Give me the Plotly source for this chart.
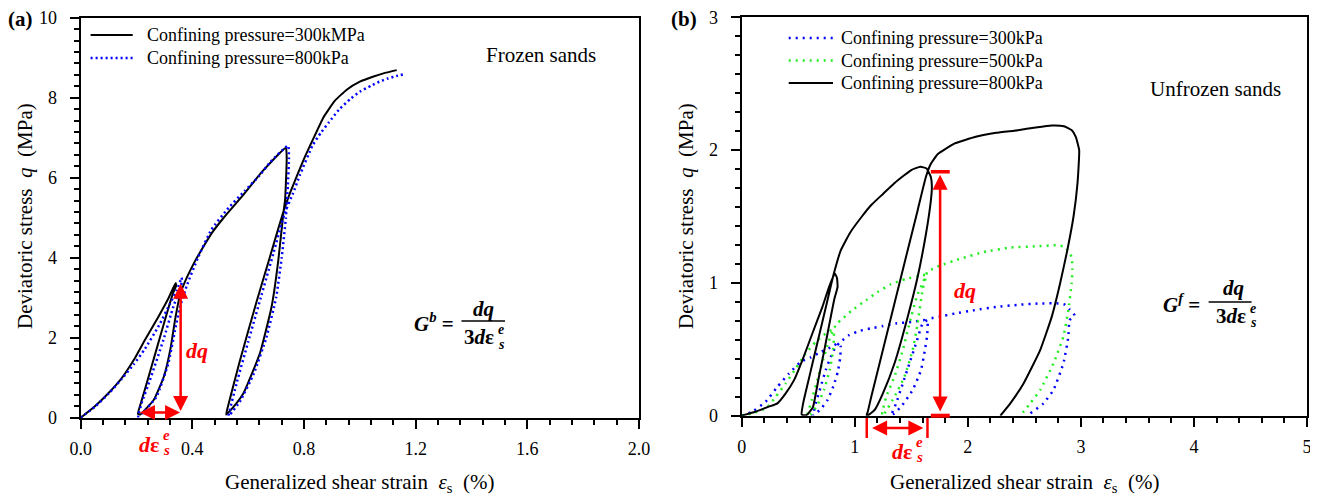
import plotly.graph_objects as go

FONT = "Liberation Serif"
W, H = 1318, 501
OFF = 8  # page body margin compensation

# ---------------- data : panel (a) frozen sands ----------------
a_x_300 = [0, 0.05, 0.099, 0.147, 0.19, 0.23, 0.278, 0.314, 0.340,
           0.342, 0.33, 0.30, 0.27, 0.24, 0.218, 0.205,
           0.213, 0.262, 0.298, 0.322, 0.339, 0.357, 0.38, 0.41, 0.44, 0.47, 0.51, 0.58, 0.65, 0.735,
           0.738, 0.736, 0.732, 0.726, 0.708, 0.684, 0.642, 0.583, 0.545, 0.521,
           0.53, 0.57, 0.63, 0.677, 0.726, 0.75, 0.798, 0.835, 0.869, 0.91, 0.953, 1.0, 1.049, 1.09, 1.132]
a_q_300 = [0, 0.28, 0.61, 0.99, 1.44, 1.94, 2.52, 2.98, 3.37,
           3.30, 3.10, 2.40, 1.67, 0.95, 0.42, 0.10,
           0.08, 0.45, 1.03, 1.74, 2.49, 3.10, 3.50, 3.92, 4.28, 4.62, 4.98, 5.55, 6.15, 6.75,
           6.50, 6.03, 5.44, 5.11, 3.94, 2.78, 1.61, 0.61, 0.25, 0.08,
           0.35, 1.42, 2.90, 4.00, 5.15, 5.62, 6.44, 7.00, 7.50, 7.92, 8.20, 8.40, 8.53, 8.62, 8.69]

a_x_800 = [0, 0.05, 0.10, 0.147, 0.19, 0.23, 0.28, 0.32, 0.345, 0.362,
           0.36, 0.332, 0.296, 0.248, 0.22, 0.206,
           0.22, 0.272, 0.314, 0.338, 0.356, 0.38, 0.42, 0.468, 0.53, 0.589, 0.64, 0.679, 0.743,
           0.746, 0.742, 0.735, 0.72, 0.70, 0.665, 0.62, 0.57, 0.535,
           0.53, 0.56, 0.60, 0.645, 0.69, 0.73, 0.76, 0.785, 0.83, 0.86, 0.89, 0.925, 0.966, 1.0,
           1.04, 1.07, 1.10, 1.13, 1.159]
a_q_800 = [0, 0.27, 0.60, 0.97, 1.33, 1.72, 2.30, 2.85, 3.20, 3.50,
           3.30, 2.78, 1.94, 0.94, 0.40, 0.03,
           0.10, 0.53, 1.36, 2.19, 2.78, 3.30, 4.00, 4.70, 5.25, 5.68, 6.05, 6.39, 6.80,
           6.50, 5.80, 5.00, 4.00, 3.00, 2.00, 1.10, 0.40, 0.08,
           0.05, 0.90, 1.90, 3.00, 4.10, 5.10, 5.60, 6.06, 6.80, 7.12, 7.39, 7.70, 7.97, 8.15,
           8.30, 8.40, 8.48, 8.54, 8.59]

# ---------------- data : panel (b) unfrozen sands ----------------
b_x_300 = [0, 0.094, 0.212, 0.316, 0.419, 0.522, 0.611, 0.70, 0.80, 0.85,
           0.875, 0.87, 0.85, 0.81, 0.76, 0.70, 0.645, 0.625,
           0.635, 0.655, 0.699, 0.743, 0.788, 0.832, 0.876, 0.95, 1.05, 1.138, 1.25, 1.362, 1.511, 1.62,
           1.644, 1.64, 1.62, 1.586, 1.512, 1.41, 1.34, 1.322,
           1.33, 1.366, 1.425, 1.483, 1.542, 1.60, 1.66, 1.75, 1.884, 2.06, 2.257, 2.45, 2.63, 2.817,
           2.86, 2.90, 2.945, 2.90, 2.889, 2.845, 2.757, 2.669, 2.552, 2.52]
b_q_300 = [0, 0.03, 0.105, 0.218, 0.318, 0.406, 0.44, 0.48, 0.52, 0.545,
           0.52, 0.43, 0.33, 0.22, 0.12, 0.05, 0.01, 0,
           0.02, 0.093, 0.218, 0.343, 0.444, 0.519, 0.556, 0.607, 0.64, 0.657, 0.675, 0.694, 0.707, 0.72,
           0.70, 0.60, 0.494, 0.343, 0.193, 0.068, 0.01, 0,
           0.02, 0.093, 0.243, 0.393, 0.544, 0.694, 0.73, 0.745, 0.769, 0.795, 0.82, 0.835, 0.845, 0.845,
           0.835, 0.80, 0.755, 0.72, 0.594, 0.393, 0.193, 0.093, 0.018, 0]

b_x_500 = [0, 0.094, 0.183, 0.242, 0.301, 0.389, 0.478, 0.566, 0.655, 0.743, 0.80,
           0.815, 0.81, 0.78, 0.73, 0.67, 0.61, 0.575,
           0.585, 0.62, 0.67, 0.72, 0.77, 0.81, 0.85, 0.891, 0.97, 1.10, 1.20, 1.32, 1.45, 1.56, 1.63,
           1.60, 1.556, 1.512, 1.439, 1.351, 1.264, 1.24,
           1.245, 1.278, 1.351, 1.425, 1.483, 1.55, 1.60, 1.644, 1.70, 1.761, 1.937, 2.142, 2.376, 2.61,
           2.786, 2.859, 2.918, 2.925, 2.918, 2.889, 2.845, 2.757, 2.64, 2.552, 2.464]
b_q_500 = [0, 0.018, 0.043, 0.08, 0.143, 0.243, 0.356, 0.469, 0.556, 0.619, 0.645,
           0.62, 0.50, 0.35, 0.20, 0.08, 0.01, 0,
           0.02, 0.12, 0.27, 0.42, 0.56, 0.65, 0.70, 0.73, 0.79, 0.87, 0.93, 0.99, 1.03, 1.05, 1.06,
           0.95, 0.694, 0.494, 0.293, 0.143, 0.018, 0,
           0.03, 0.143, 0.293, 0.494, 0.694, 0.90, 1.00, 1.083, 1.11, 1.133, 1.183, 1.233, 1.266, 1.276,
           1.283, 1.271, 1.196, 1.10, 0.995, 0.794, 0.594, 0.393, 0.193, 0.093, 0]

b_x_800 = [0, 0.12, 0.24, 0.316, 0.389, 0.463, 0.537, 0.625, 0.714, 0.773, 0.823,
           0.842, 0.848, 0.82, 0.78, 0.73, 0.68, 0.63, 0.58, 0.548,
           0.53, 0.545, 0.60, 0.66, 0.72, 0.78, 0.811, 0.877, 0.96, 1.063, 1.15, 1.25, 1.35, 1.437, 1.50, 1.58,
           1.635, 1.672, 1.682, 1.673, 1.63, 1.556, 1.468, 1.351, 1.249, 1.176, 1.12, 1.105,
           1.115, 1.146, 1.234, 1.351, 1.468, 1.556, 1.629, 1.673, 1.735, 1.884, 2.07, 2.25, 2.444, 2.6,
           2.74, 2.85, 2.92, 2.955, 2.985, 2.97, 2.935, 2.88, 2.816, 2.742, 2.64, 2.493, 2.376, 2.288]
b_q_800 = [0, 0.03, 0.068, 0.093, 0.168, 0.268, 0.419, 0.619, 0.82, 0.97, 1.07,
           1.04, 0.97, 0.88, 0.71, 0.49, 0.28, 0.065, 0.008, 0.003,
           0.01, 0.10, 0.30, 0.515, 0.73, 0.947, 1.058, 1.246, 1.38, 1.50, 1.59, 1.67, 1.75, 1.81, 1.85, 1.875,
           1.862, 1.80, 1.72, 1.62, 1.37, 1.045, 0.744, 0.393, 0.168, 0.043, 0.005, 0.003,
           0.03, 0.143, 0.444, 0.845, 1.246, 1.546, 1.797, 1.897, 1.97, 2.05, 2.10, 2.13, 2.15, 2.17,
           2.185, 2.18, 2.15, 2.10, 2.00, 1.75, 1.50, 1.246, 0.995, 0.744, 0.494, 0.243, 0.093, 0]

a_xticks = [0.0, 0.4, 0.8, 1.2, 1.6, 2.0]
a_yticks = [0, 2, 4, 6, 8, 10]
b_xticks = [0, 1, 2, 3, 4, 5]
b_yticks = [0, 1, 2, 3]

a_names = ["Confining pressure=300kMPa", "Confining pressure=800kPa"]
b_names = ["Confining pressure=300kPa", "Confining pressure=500kPa", "Confining pressure=800kPa"]

# ---------------- styles ----------------
BLUE_A = dict(color="blue", width=2.5, dash="2px,3px")
BLUE_B = dict(color="blue", width=2.5, dash="2px,5px")
GREEN_B = dict(color="#22ee22", width=2.5, dash="2px,5px")
BLACK = dict(color="black", width=2)
red = "#ff0000"

A_X0, A_X1, A_Y0, A_Y1 = 80.7, 639, 417.7, 17.7
B_X0, B_X1, B_Y0, B_Y1 = 741.7, 1307, 415.7, 17.3

def px(p):
    return (p - OFF) / W

def py(p):
    return 1 - (p - OFF) / H

fig = go.Figure()

def curve(x, y, name, line, xa, ya):
    ln = dict(line)
    ln.update(shape="spline", smoothing=0.4)
    fig.add_trace(go.Scatter(x=x, y=y, mode="lines", name=name, line=ln,
                             xaxis=xa, yaxis=ya, showlegend=False, hoverinfo="skip"))

curve(a_x_300, a_q_300, a_names[0], BLACK, "x", "y")
curve(a_x_800, a_q_800, a_names[1], BLUE_A, "x", "y")
curve(b_x_300, b_q_300, b_names[0], BLUE_B, "x2", "y2")
curve(b_x_500, b_q_500, b_names[1], GREEN_B, "x2", "y2")
curve(b_x_800, b_q_800, b_names[2], BLACK, "x2", "y2")

tickfont = dict(family=FONT, size=18, color="black")
common = dict(showline=True, linecolor="black", linewidth=2, mirror=True, ticks="outside",
              ticklen=9, tickwidth=2, tickcolor="black", showgrid=False, zeroline=False,
              tickfont=tickfont, fixedrange=True, ticklabeloverflow="allow")
minor = dict(ticks="outside", ticklen=5, tickwidth=2, tickcolor="black")

fig.update_layout(
    width=W, height=H, autosize=False,
    margin=dict(l=0, r=0, t=0, b=0, autoexpand=False),
    paper_bgcolor="white", plot_bgcolor="white",
    font=dict(family=FONT, color="black"),
    showlegend=False,
    xaxis=dict(domain=[px(A_X0), px(A_X1)], range=[0, 2], tickvals=a_xticks,
               ticktext=[f"{v:.1f}" for v in a_xticks], anchor="y", ticklabelstandoff=5,
               minor=dict(minor, dtick=0.08), **common),
    yaxis=dict(domain=[py(A_Y0), py(A_Y1)], range=[0, 10], tickvals=a_yticks, anchor="x",
               ticklabelstandoff=9, minor=dict(minor, dtick=2 / 7), **common),
    xaxis2=dict(domain=[px(B_X0), px(B_X1)], range=[0, 5], tickvals=b_xticks, anchor="y2",
                ticklabelstandoff=5, minor=dict(minor, dtick=0.2), **common),
    yaxis2=dict(domain=[py(B_Y0), py(B_Y1)], range=[0, 3], tickvals=b_yticks, anchor="x2",
                ticklabelstandoff=9, minor=dict(minor, dtick=1 / 7), **common),
)

ann = []
shapes = []

def text(x, y, s, size, xref="x", yref="y", color="black", angle=0, xanchor="center"):
    ann.append(dict(x=x, y=y, xref=xref, yref=yref, text=s, showarrow=False, textangle=angle,
                    font=dict(family=FONT, size=size, color=color), xanchor=xanchor, yanchor="middle"))

def stacked(xr, yr, x, y_main, y_sup, y_sub, main, size, small, color="black"):
    # main text right-aligned at x, with superscript e stacked over subscript s
    text(x, y_main, main, size, xr, yr, color=color, xanchor="right")
    text(x, y_sup, "<b><i>e</i></b>", small, xr, yr, color=color, xanchor="left")
    text(x, y_sub, "<b><i>s</i></b>", small, xr, yr, color=color, xanchor="left")

def arrow(x0, y0, x1, y1, xr, yr):
    ann.append(dict(x=x1, y=y1, ax=x0, ay=y0, xref=xr, yref=yr, axref=xr, ayref=yr, text="",
                    showarrow=True, arrowhead=2, arrowsize=1.2, arrowwidth=2.5, arrowcolor=red,
                    arrowside="end+start", startarrowhead=2, startarrowsize=1.2, standoff=0, startstandoff=0))

def seg(x0, y0, x1, y1, color, width, dash="solid", xref="paper", yref="paper"):
    shapes.append(dict(type="line", xref=xref, yref=yref, x0=x0, x1=x1, y0=y0, y1=y1,
                       line=dict(color=color, width=width, dash=dash)))

# ---- manual legends ----
for i, (name, st) in enumerate(zip(a_names, [BLACK, BLUE_A])):
    yy = 35 + 23 * i
    seg(px(90.6), py(yy), px(132.7), py(yy), st["color"], st["width"], st.get("dash", "solid"))
    text(px(145), py(yy), name, 18, "paper", "paper", xanchor="left")
for i, (name, st) in enumerate(zip(b_names, [BLUE_B, GREEN_B, BLACK])):
    yy = 38 + 22.5 * i
    seg(px(788.7), py(yy), px(833), py(yy), st["color"], st["width"], st.get("dash", "solid"))
    text(px(839), py(yy), name, 18, "paper", "paper", xanchor="left")

# panel labels
text(px(20), py(19), "<b>(a)</b>", 21, "paper", "paper")
text(px(684), py(19), "<b>(b)</b>", 21, "paper", "paper")
# axis titles
sp = "\u00a0"
ytitle = f"Deviatoric stress{sp}{sp}<i>q</i>{sp}{sp}(MPa)"
xtitle = f"Generalized shear strain{sp}{sp}<i>ε</i><sub>s</sub>{sp}{sp}(%)"
text(px(25), py(216), ytitle, 21, "paper", "paper", angle=-90)
text(px(686), py(216), ytitle, 21, "paper", "paper", angle=-90)
text(px((A_X0 + A_X1) / 2), py(483), xtitle, 21, "paper", "paper")
text(px((B_X0 + B_X1) / 2), py(483), xtitle, 21, "paper", "paper")
# labels
text(1.65, 9.07, "Frozen sands", 21)
text(4.19, 2.46, "Unfrozen sands", 21, "x2", "y2")
# formulas
text(1.266, 2.38, "<b><i>G<sup>b</sup></i> =</b>", 21)
text(1.442, 2.73, "<b><i>dq</i></b>", 21)
stacked("x", "y", 1.487, 2.01, 2.20, 1.835, "<b>3<i>d</i>ε</b>", 21, 14)
text(3.894, 0.847, "<b><i>G<sup>f</sup></i> =</b>", 21, "x2", "y2")
text(4.35, 0.965, "<b><i>dq</i></b>", 21, "x2", "y2")
stacked("x2", "y2", 4.475, 0.752, 0.81, 0.70, "<b>3<i>d</i>ε</b>", 21, 14)
seg(1.364, 2.42, 1.52, 2.42, "black", 1.5, xref="x", yref="y")
seg(4.13, 0.857, 4.51, 0.857, "black", 1.5, xref="x2", yref="y2")
# red labels
text(0.416, 1.69, "<b><i>dq</i></b>", 22, color=red)
stacked("paper", "paper", px(161), py(444), py(435), py(450), "<b><i>d</i>ε</b>", 22, 15, color=red)
text(1.976, 0.945, "<b><i>dq</i></b>", 22, "x2", "y2", color=red)
stacked("paper", "paper", px(914), py(451), py(442), py(457), "<b><i>d</i>ε</b>", 22, 15, color=red)
# red arrows
arrow(0.358, 0.13, 0.358, 3.35, "x", "y")
arrow(0.207, 0.13, 0.356, 0.13, "x", "y")
arrow(1.755, 0.02, 1.755, 1.815, "x2", "y2")
ann.append(dict(x=px(923.4), y=py(428), xref="paper", yref="paper", axref="pixel", ayref="pixel",
                ax=-52.8, ay=0, text="", showarrow=True, arrowhead=2, arrowsize=1.2, arrowwidth=2.5,
                arrowcolor=red, arrowside="end+start", startarrowhead=2, startarrowsize=1.2,
                standoff=0, startstandoff=0))
# red bars
seg(1.673, 1.837, 1.84, 1.837, red, 3.5, xref="x2", yref="y2")
seg(1.673, py(B_Y0), 1.84, py(B_Y0), red, 4, xref="x2")
seg(1.106, py(418), 1.106, py(438), red, 2.5, xref="x2")
seg(1.643, py(418), 1.643, py(438), red, 2.5, xref="x2")

fig.update_layout(annotations=ann, shapes=shapes)
fig.write_html("out.html")
